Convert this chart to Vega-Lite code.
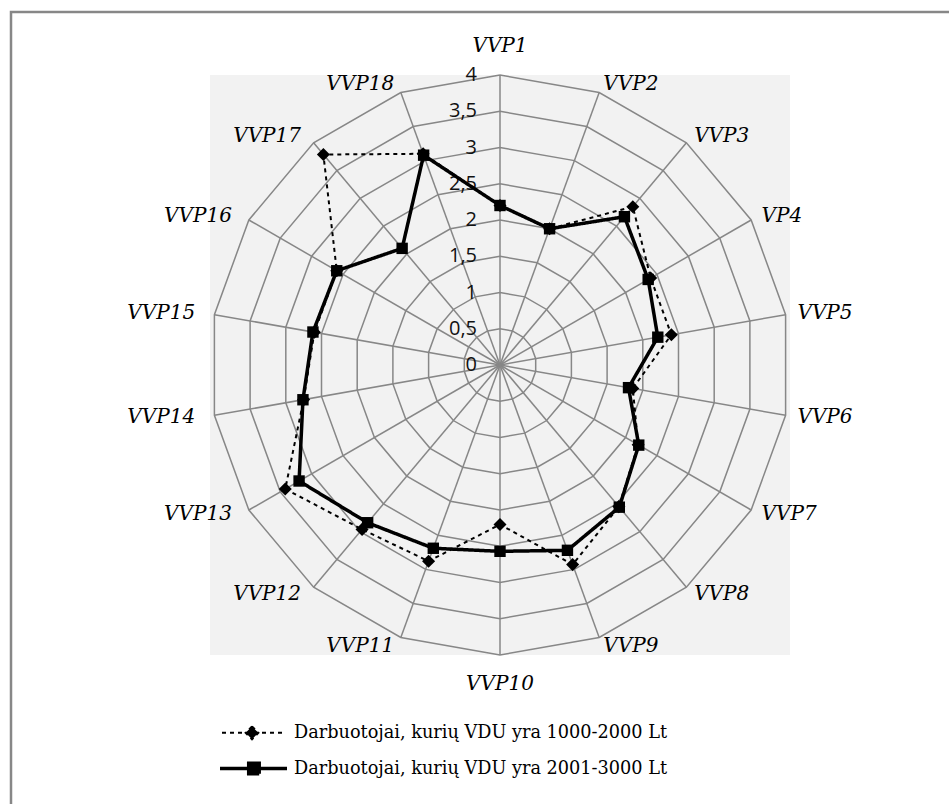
{
  "$schema": "https://vega.github.io/schema/vega-lite/v6.json",
  "width": 960,
  "height": 810,
  "autosize": {"type": "none"},
  "padding": {"left": 11, "top": 12, "right": 0, "bottom": 0},
  "background": "white",
  "config": {
    "view": {"stroke": "#878787", "strokeWidth": 2.5, "fill": "white"}
  },
  "datasets": {
    "series": [
      {"series": "Darbuotojai, kurių VDU yra 1000-2000 Lt", "cat": "VVP1", "k": 0, "value": 2.2},
      {"series": "Darbuotojai, kurių VDU yra 1000-2000 Lt", "cat": "VVP2", "k": 1, "value": 2.0},
      {"series": "Darbuotojai, kurių VDU yra 1000-2000 Lt", "cat": "VVP3", "k": 2, "value": 2.85},
      {"series": "Darbuotojai, kurių VDU yra 1000-2000 Lt", "cat": "VP4", "k": 3, "value": 2.4},
      {"series": "Darbuotojai, kurių VDU yra 1000-2000 Lt", "cat": "VVP5", "k": 4, "value": 2.4},
      {"series": "Darbuotojai, kurių VDU yra 1000-2000 Lt", "cat": "VVP6", "k": 5, "value": 1.86},
      {"series": "Darbuotojai, kurių VDU yra 1000-2000 Lt", "cat": "VVP7", "k": 6, "value": 2.2},
      {"series": "Darbuotojai, kurių VDU yra 1000-2000 Lt", "cat": "VVP8", "k": 7, "value": 2.55},
      {"series": "Darbuotojai, kurių VDU yra 1000-2000 Lt", "cat": "VVP9", "k": 8, "value": 2.93},
      {"series": "Darbuotojai, kurių VDU yra 1000-2000 Lt", "cat": "VVP10", "k": 9, "value": 2.2},
      {"series": "Darbuotojai, kurių VDU yra 1000-2000 Lt", "cat": "VVP11", "k": 10, "value": 2.88},
      {"series": "Darbuotojai, kurių VDU yra 1000-2000 Lt", "cat": "VVP12", "k": 11, "value": 2.96},
      {"series": "Darbuotojai, kurių VDU yra 1000-2000 Lt", "cat": "VVP13", "k": 12, "value": 3.42},
      {"series": "Darbuotojai, kurių VDU yra 1000-2000 Lt", "cat": "VVP14", "k": 13, "value": 2.75},
      {"series": "Darbuotojai, kurių VDU yra 1000-2000 Lt", "cat": "VVP15", "k": 14, "value": 2.6},
      {"series": "Darbuotojai, kurių VDU yra 1000-2000 Lt", "cat": "VVP16", "k": 15, "value": 2.6},
      {"series": "Darbuotojai, kurių VDU yra 1000-2000 Lt", "cat": "VVP17", "k": 16, "value": 3.79},
      {"series": "Darbuotojai, kurių VDU yra 1000-2000 Lt", "cat": "VVP18", "k": 17, "value": 3.1},
      {"series": "Darbuotojai, kurių VDU yra 2001-3000 Lt", "cat": "VVP1", "k": 0, "value": 2.2},
      {"series": "Darbuotojai, kurių VDU yra 2001-3000 Lt", "cat": "VVP2", "k": 1, "value": 2.0},
      {"series": "Darbuotojai, kurių VDU yra 2001-3000 Lt", "cat": "VVP3", "k": 2, "value": 2.67},
      {"series": "Darbuotojai, kurių VDU yra 2001-3000 Lt", "cat": "VP4", "k": 3, "value": 2.36},
      {"series": "Darbuotojai, kurių VDU yra 2001-3000 Lt", "cat": "VVP5", "k": 4, "value": 2.21},
      {"series": "Darbuotojai, kurių VDU yra 2001-3000 Lt", "cat": "VVP6", "k": 5, "value": 1.8},
      {"series": "Darbuotojai, kurių VDU yra 2001-3000 Lt", "cat": "VVP7", "k": 6, "value": 2.21},
      {"series": "Darbuotojai, kurių VDU yra 2001-3000 Lt", "cat": "VVP8", "k": 7, "value": 2.56},
      {"series": "Darbuotojai, kurių VDU yra 2001-3000 Lt", "cat": "VVP9", "k": 8, "value": 2.72},
      {"series": "Darbuotojai, kurių VDU yra 2001-3000 Lt", "cat": "VVP10", "k": 9, "value": 2.57},
      {"series": "Darbuotojai, kurių VDU yra 2001-3000 Lt", "cat": "VVP11", "k": 10, "value": 2.69},
      {"series": "Darbuotojai, kurių VDU yra 2001-3000 Lt", "cat": "VVP12", "k": 11, "value": 2.84},
      {"series": "Darbuotojai, kurių VDU yra 2001-3000 Lt", "cat": "VVP13", "k": 12, "value": 3.2},
      {"series": "Darbuotojai, kurių VDU yra 2001-3000 Lt", "cat": "VVP14", "k": 13, "value": 2.76},
      {"series": "Darbuotojai, kurių VDU yra 2001-3000 Lt", "cat": "VVP15", "k": 14, "value": 2.62},
      {"series": "Darbuotojai, kurių VDU yra 2001-3000 Lt", "cat": "VVP16", "k": 15, "value": 2.6},
      {"series": "Darbuotojai, kurių VDU yra 2001-3000 Lt", "cat": "VVP17", "k": 16, "value": 2.1},
      {"series": "Darbuotojai, kurių VDU yra 2001-3000 Lt", "cat": "VVP18", "k": 17, "value": 3.08}
    ],
    "cats": [
      {"cat": "VVP1", "k": 0}, {"cat": "VVP2", "k": 1}, {"cat": "VVP3", "k": 2},
      {"cat": "VP4", "k": 3}, {"cat": "VVP5", "k": 4}, {"cat": "VVP6", "k": 5},
      {"cat": "VVP7", "k": 6}, {"cat": "VVP8", "k": 7}, {"cat": "VVP9", "k": 8},
      {"cat": "VVP10", "k": 9}, {"cat": "VVP11", "k": 10}, {"cat": "VVP12", "k": 11},
      {"cat": "VVP13", "k": 12}, {"cat": "VVP14", "k": 13}, {"cat": "VVP15", "k": 14},
      {"cat": "VVP16", "k": 15}, {"cat": "VVP17", "k": 16}, {"cat": "VVP18", "k": 17}
    ],
    "levels": [
      {"level": 0, "label": "0"}, {"level": 0.5, "label": "0,5"}, {"level": 1, "label": "1"},
      {"level": 1.5, "label": "1,5"}, {"level": 2, "label": "2"}, {"level": 2.5, "label": "2,5"},
      {"level": 3, "label": "3"}, {"level": 3.5, "label": "3,5"}, {"level": 4, "label": "4"}
    ],
    "rings": [
      {"level": 0.5, "ks": [0,1,2,3,4,5,6,7,8,9,10,11,12,13,14,15,16,17,18]},
      {"level": 1, "ks": [0,1,2,3,4,5,6,7,8,9,10,11,12,13,14,15,16,17,18]},
      {"level": 1.5, "ks": [0,1,2,3,4,5,6,7,8,9,10,11,12,13,14,15,16,17,18]},
      {"level": 2, "ks": [0,1,2,3,4,5,6,7,8,9,10,11,12,13,14,15,16,17,18]},
      {"level": 2.5, "ks": [0,1,2,3,4,5,6,7,8,9,10,11,12,13,14,15,16,17,18]},
      {"level": 3, "ks": [0,1,2,3,4,5,6,7,8,9,10,11,12,13,14,15,16,17,18]},
      {"level": 3.5, "ks": [0,1,2,3,4,5,6,7,8,9,10,11,12,13,14,15,16,17,18]},
      {"level": 4, "ks": [0,1,2,3,4,5,6,7,8,9,10,11,12,13,14,15,16,17,18]}
    ]
  },
  "layer": [
    {
      "data": {"values": [{"lo": -4, "hi": 4}]},
      "mark": {"type": "rect", "fill": "#f2f2f2"},
      "encoding": {
        "x": {"field": "lo", "type": "quantitative", "scale": {"domain": [-4, 4], "range": [199, 779], "nice": false, "zero": false}, "axis": null},
        "x2": {"field": "hi"},
        "y": {"field": "lo", "type": "quantitative", "scale": {"domain": [-4, 4], "range": [643, 63], "nice": false, "zero": false}, "axis": null},
        "y2": {"field": "hi"}
      }
    },
    {
      "data": {"name": "rings"},
      "transform": [
        {"flatten": ["ks"], "as": ["kk"]},
        {"calculate": "datum.level * sin(datum.kk * PI / 9)", "as": "gx"},
        {"calculate": "datum.level * cos(datum.kk * PI / 9)", "as": "gy"}
      ],
      "mark": {"type": "line", "stroke": "#878787", "strokeWidth": 1.5},
      "encoding": {
        "x": {"field": "gx", "type": "quantitative"},
        "y": {"field": "gy", "type": "quantitative"},
        "detail": {"field": "level", "type": "nominal"},
        "order": {"field": "kk", "type": "quantitative"}
      }
    },
    {
      "data": {"name": "cats"},
      "transform": [
        {"calculate": "4 * sin(datum.k * PI / 9)", "as": "sx"},
        {"calculate": "4 * cos(datum.k * PI / 9)", "as": "sy"},
        {"calculate": "0", "as": "c0"}
      ],
      "mark": {"type": "rule", "stroke": "#878787", "strokeWidth": 1.5},
      "encoding": {
        "x": {"field": "c0", "type": "quantitative"},
        "y": {"field": "c0", "type": "quantitative"},
        "x2": {"field": "sx"},
        "y2": {"field": "sy"}
      }
    },
    {
      "data": {"name": "levels"},
      "transform": [{"calculate": "0", "as": "c0"}],
      "mark": {"type": "text", "align": "right", "baseline": "middle", "dx": -23, "font": "Open Sans", "fontSize": 20, "color": "#111"},
      "encoding": {
        "x": {"field": "c0", "type": "quantitative"},
        "y": {"field": "level", "type": "quantitative"},
        "text": {"field": "label"}
      }
    },
    {
      "data": {"name": "series"},
      "transform": [
        {"calculate": "datum.k == 0 ? [0, 18] : [datum.k]", "as": "kk"},
        {"flatten": ["kk"]},
        {"calculate": "datum.value * sin(datum.kk * PI / 9)", "as": "px"},
        {"calculate": "datum.value * cos(datum.kk * PI / 9)", "as": "py"}
      ],
      "mark": {"type": "line", "color": "black", "strokeCap": "butt", "strokeJoin": "miter"},
      "encoding": {
        "x": {"field": "px", "type": "quantitative"},
        "y": {"field": "py", "type": "quantitative"},
        "order": {"field": "kk", "type": "quantitative"},
        "strokeWidth": {
          "field": "series", "type": "nominal",
          "scale": {"domain": ["Darbuotojai, kurių VDU yra 1000-2000 Lt", "Darbuotojai, kurių VDU yra 2001-3000 Lt"], "range": [2, 3.5]},
          "legend": null
        },
        "strokeDash": {
          "field": "series", "type": "nominal",
          "scale": {"domain": ["Darbuotojai, kurių VDU yra 1000-2000 Lt", "Darbuotojai, kurių VDU yra 2001-3000 Lt"], "range": [[4, 4], [1, 0]]},
          "legend": {
            "orient": "none",
            "legendX": 260,
            "legendY": 712,
            "title": null,
            "padding": 0,
            "labelFont": "DejaVu Serif",
            "labelFontSize": 17.7,
            "labelColor": "black",
            "labelLimit": 700,
            "labelOffset": 4,
            "symbolSize": 225,
            "rowPadding": 12,
            "symbolStrokeColor": "black",
            "symbolFillColor": "black",
            "encode": {
              "symbols": {
                "update": {
                  "shape": {"signal": "datum.index === 0 ? 'M-7.8,0H0.6M-3.8,-0.85L-2.95,0L-3.8,0.85L-4.65,0Z' : 'M-8.07,0H0.87M-4.24,-0.7H-2.84V0.7H-4.24Z'"},
                  "strokeWidth": {"signal": "datum.index === 0 ? 1.5 : 3"},
                  "strokeDash": {"signal": "datum.index === 0 ? [3, 3] : [1, 0]"},
                  "fill": {"value": "black"},
                  "stroke": {"value": "black"}
                }
              }
            }
          }
        }
      }
    },
    {
      "data": {"name": "series"},
      "transform": [
        {"filter": "datum.series === 'Darbuotojai, kurių VDU yra 1000-2000 Lt'"},
        {"calculate": "datum.value * sin(datum.k * PI / 9)", "as": "px"},
        {"calculate": "datum.value * cos(datum.k * PI / 9)", "as": "py"}
      ],
      "mark": {"type": "point", "shape": "diamond", "filled": true, "color": "black", "opacity": 1, "size": 170},
      "encoding": {
        "x": {"field": "px", "type": "quantitative"},
        "y": {"field": "py", "type": "quantitative"}
      }
    },
    {
      "data": {"name": "series"},
      "transform": [
        {"filter": "datum.series === 'Darbuotojai, kurių VDU yra 2001-3000 Lt'"},
        {"calculate": "datum.value * sin(datum.k * PI / 9)", "as": "px"},
        {"calculate": "datum.value * cos(datum.k * PI / 9)", "as": "py"}
      ],
      "mark": {"type": "point", "shape": "square", "filled": true, "color": "black", "opacity": 1, "size": 130},
      "encoding": {
        "x": {"field": "px", "type": "quantitative"},
        "y": {"field": "py", "type": "quantitative"}
      }
    },
    {
      "data": {"name": "cats"},
      "transform": [
        {"filter": "datum.k >= 1 && datum.k <= 8"},
        {"calculate": "4.166 * sin(datum.k * PI / 9)", "as": "lx"},
        {"calculate": "4.124 * cos(datum.k * PI / 9)", "as": "ly"}
      ],
      "mark": {"type": "text", "align": "left", "baseline": "middle", "font": "DejaVu Serif", "fontStyle": "italic", "fontSize": 20, "color": "black"},
      "encoding": {
        "x": {"field": "lx", "type": "quantitative"},
        "y": {"field": "ly", "type": "quantitative"},
        "text": {"field": "cat"}
      }
    },
    {
      "data": {"name": "cats"},
      "transform": [
        {"filter": "datum.k >= 10"},
        {"calculate": "4.27 * sin(datum.k * PI / 9)", "as": "lx"},
        {"calculate": "4.124 * cos(datum.k * PI / 9)", "as": "ly"}
      ],
      "mark": {"type": "text", "align": "right", "baseline": "middle", "font": "DejaVu Serif", "fontStyle": "italic", "fontSize": 20, "color": "black"},
      "encoding": {
        "x": {"field": "lx", "type": "quantitative"},
        "y": {"field": "ly", "type": "quantitative"},
        "text": {"field": "cat"}
      }
    },
    {
      "data": {"name": "cats"},
      "transform": [
        {"filter": "datum.k == 0 || datum.k == 9"},
        {"calculate": "4.4 * sin(datum.k * PI / 9)", "as": "lx"},
        {"calculate": "4.4 * cos(datum.k * PI / 9)", "as": "ly"}
      ],
      "mark": {"type": "text", "align": "center", "baseline": "middle", "font": "DejaVu Serif", "fontStyle": "italic", "fontSize": 20, "color": "black"},
      "encoding": {
        "x": {"field": "lx", "type": "quantitative"},
        "y": {"field": "ly", "type": "quantitative"},
        "text": {"field": "cat"}
      }
    }
  ]
}
